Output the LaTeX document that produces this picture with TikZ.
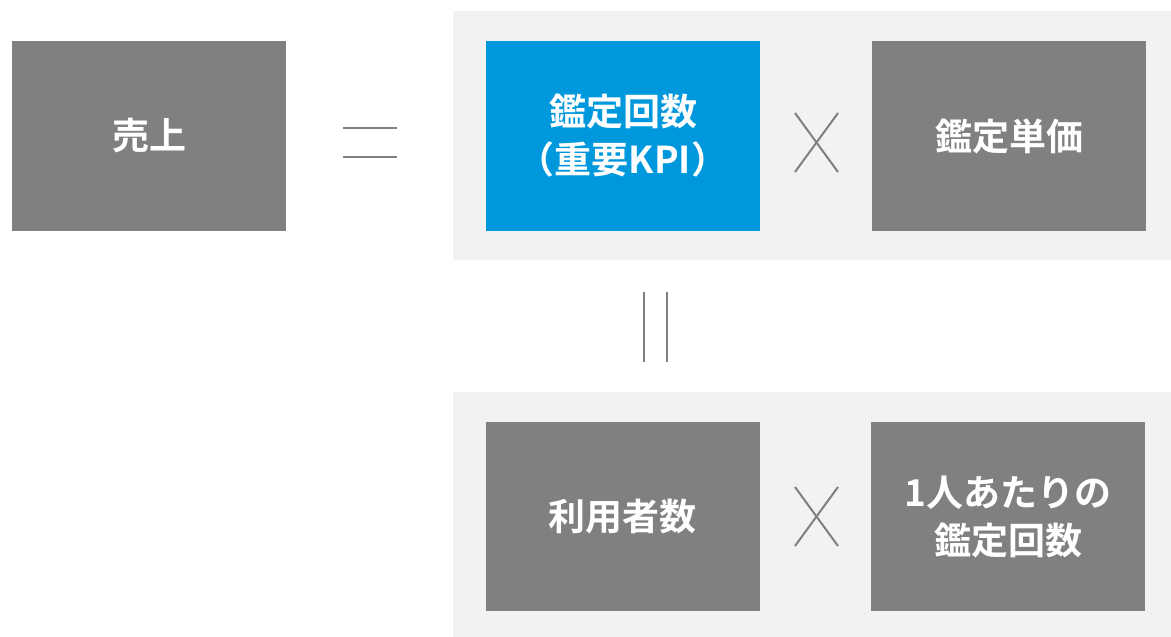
\documentclass[tikz,border=0pt]{standalone}
\usepackage{fontspec}
\newfontfamily\jp{Noto Sans CJK JP}[UprightFont=* Bold]
\definecolor{boxgray}{HTML}{808080}
\definecolor{kpiblue}{HTML}{0098DD}
\definecolor{panelgray}{HTML}{F2F2F2}
\definecolor{opgray}{HTML}{7F7F7F}
\begin{document}
\begin{tikzpicture}[x=1pt,y=-1pt,
  box/.style={fill=boxgray, draw=none, inner sep=0pt, minimum width=274pt, minimum height=190pt,
    text=white, align=center, font=\jp\fontsize{37}{48}\selectfont},
  kpi/.style={box, fill=kpiblue},
  panel/.style={fill=panelgray, draw=none},
  op/.style={draw=opgray, line width=2pt}]
\useasboundingbox (0,0) rectangle (1171,637);
% panels
\fill[panel] (453,11) rectangle (1171,260);
\fill[panel] (453,392) rectangle (1171,637);
% boxes
\node[box] (sales) at (149,136) {売上};
\node[kpi] (count) at (623,136) {鑑定回数\\（重要KPI）};
\node[box] (price) at (1009,136) {鑑定単価};
\node[box, minimum height=189pt] (users) at (622.5,516.5) {利用者数};
\node[box, minimum height=189pt] (peruser) at (1008,516.5) {1人あたりの\\鑑定回数};
% equals sign
\coordinate (e1a) at (343,128); \coordinate (e1b) at (397,128);
\coordinate (e2a) at (343,157); \coordinate (e2b) at (397,157);
\draw[op] (e1a) -- (e1b);
\draw[op] (e2a) -- (e2b);
% vertical equals
\coordinate (v1a) at (643.5,292); \coordinate (v1b) at (643.5,362);
\coordinate (v2a) at (666.5,292); \coordinate (v2b) at (666.5,362);
\draw[op] (v1a) -- (v1b);
\draw[op] (v2a) -- (v2b);
% times signs
\coordinate (t1a) at (795,113); \coordinate (t1b) at (838,172);
\coordinate (t1c) at (838,113); \coordinate (t1d) at (795,172);
\draw[op] (t1a) -- (t1b);
\draw[op] (t1c) -- (t1d);
\coordinate (t2a) at (795,487); \coordinate (t2b) at (838,546);
\coordinate (t2c) at (838,487); \coordinate (t2d) at (795,546);
\draw[op] (t2a) -- (t2b);
\draw[op] (t2c) -- (t2d);
\end{tikzpicture}
\end{document}
